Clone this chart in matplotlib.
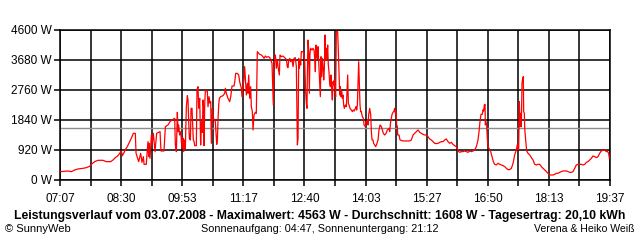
import numpy as np
import matplotlib
matplotlib.use("Agg")
from matplotlib import pyplot as plt

# time of day in minutes since midnight, power in W
t_min = [
    427.9, 437.9, 442.5, 447.0, 451.6, 458.4, 462.9, 467.5, 469.8, 474.3,
    478.8, 485.7, 490.2, 496.1, 499.3, 502.5, 506.1, 508.4, 510.7, 512.0,
    513.8, 516.6, 518.8, 522.0, 525.2, 527.0, 529.7, 530.7, 532.5, 534.3,
    537.0, 538.8, 540.7, 541.6, 544.7, 545.7, 547.0, 547.9, 548.4, 549.7,
    551.6, 552.5, 554.3, 556.6, 558.8, 563.4, 564.7, 568.8, 569.7, 570.7,
    574.3, 577.0, 579.8, 583.4, 584.3, 585.7, 587.0, 587.9, 588.8, 590.2,
    591.6, 592.5, 593.8, 594.8, 595.7, 597.0, 597.9, 599.3, 600.7, 601.6,
    602.5, 603.4, 604.8, 605.7, 607.0, 607.9, 608.8, 609.8, 610.7, 612.9,
    613.8, 615.2, 616.1, 617.5, 618.8, 619.8, 621.1, 622.0, 622.9, 623.4,
    624.3, 625.2, 627.9, 628.8, 630.2, 631.6, 632.5, 633.4, 634.8, 635.7,
    637.0, 638.8, 640.7, 641.6, 642.5, 643.4, 644.3, 646.1, 649.3, 651.6,
    652.5, 653.8, 656.1, 658.4, 659.8, 661.6, 664.3, 665.2, 666.6, 668.8,
    670.7, 672.0, 674.3, 675.2, 676.6, 677.9, 678.8, 679.7, 681.1, 682.5,
    683.4, 684.3, 685.7, 687.0, 687.9, 689.3, 690.2, 691.6, 693.4, 694.7,
    696.1, 697.9, 699.3, 701.6, 703.8, 705.2, 707.0, 708.8, 710.7, 712.9,
    714.3, 716.1, 717.9, 718.8, 719.7, 720.7, 722.0, 723.4, 724.3, 726.1,
    727.0, 728.8, 731.1, 733.4, 735.7, 737.0, 737.9, 738.8, 740.2, 741.6,
    743.4, 744.8, 746.1, 747.9, 749.3, 750.2, 750.7, 751.6, 752.5, 753.4,
    754.3, 755.2, 756.1, 758.4, 759.3, 760.7, 762.0, 762.9, 763.8, 764.3,
    765.2, 766.1, 767.0, 767.9, 768.8, 770.7, 772.0, 773.4, 774.3, 775.2,
    776.1, 777.0, 777.9, 778.8, 780.2, 781.1, 782.0, 782.9, 783.8, 784.7,
    785.7, 786.6, 787.5, 788.4, 789.3, 790.2, 791.1, 792.0, 792.9, 793.8,
    794.7, 795.7, 796.6, 797.5, 798.4, 799.3, 800.2, 801.1, 802.0, 802.9,
    803.4, 803.8, 804.7, 805.6, 806.6, 807.5, 808.4, 809.3, 810.2, 811.1,
    812.0, 812.9, 813.8, 814.7, 816.1, 817.5, 818.4, 819.3, 820.2, 821.1,
    822.5, 824.3, 825.7, 827.0, 828.4, 829.7, 830.7, 831.6, 832.5, 833.4,
    834.3, 835.2, 836.1, 837.0, 837.9, 839.3, 840.7, 841.6, 843.4, 844.7,
    846.1, 847.0, 847.9, 849.3, 850.7, 851.6, 852.5, 853.8, 854.7, 856.1,
    857.5, 858.8, 860.7, 862.0, 863.4, 865.2, 866.6, 867.9, 869.7, 871.6,
    873.4, 875.7, 876.6, 877.9, 879.8, 881.1, 882.5, 883.4, 884.3, 885.2,
    886.1, 887.0, 887.5, 889.3, 890.7, 894.8, 899.3, 903.8, 906.1, 908.4,
    910.7, 912.9, 915.2, 917.5, 919.8, 922.0, 924.3, 926.6, 928.8, 931.1,
    933.4, 935.7, 937.9, 940.2, 942.5, 944.8, 947.0, 949.3, 951.6, 953.8,
    956.1, 958.4, 960.7, 962.9, 965.2, 967.5, 969.8, 972.0, 974.3, 976.6,
    978.8, 981.1, 983.4, 985.7, 987.9, 990.2, 992.5, 994.8, 997.0, 998.4,
    999.7, 1001.1, 1002.9, 1003.8, 1004.7, 1005.6, 1006.6, 1007.0, 1007.9, 1008.8,
    1009.7, 1010.7, 1012.0, 1012.9, 1014.3, 1016.1, 1017.9, 1019.7, 1022.0, 1024.3,
    1026.6, 1028.8, 1031.1, 1033.4, 1035.7, 1037.9, 1040.2, 1042.5, 1044.8, 1047.0,
    1049.3, 1050.7, 1051.6, 1052.5, 1053.4, 1054.3, 1055.2, 1056.1, 1057.0, 1057.9,
    1058.8, 1059.3, 1060.2, 1060.7, 1062.0, 1063.4, 1065.2, 1067.5, 1069.8, 1072.0,
    1074.3, 1076.6, 1078.8, 1081.1, 1083.4, 1085.7, 1087.9, 1090.2, 1092.5, 1094.8,
    1097.0, 1099.3, 1101.6, 1103.8, 1106.1, 1108.4, 1110.7, 1112.9, 1115.2, 1117.5,
    1119.8, 1122.0, 1124.3, 1126.6, 1128.8, 1131.1, 1133.4, 1135.7, 1137.9, 1140.2,
    1142.5, 1144.8, 1147.0, 1149.3, 1151.6, 1153.8, 1156.1, 1158.4, 1160.7, 1162.9,
    1165.2, 1167.5, 1169.7, 1172.0, 1173.4, 1174.3, 1175.2, 1176.1,
]
watts = [
    256, 277, 256, 307, 338, 358, 379, 420, 481, 563,
    604, 604, 563, 563, 614, 686, 747, 819, 890, 747,
    819, 951, 1023, 1176, 1329, 1431, 1431, 819, 686, 563,
    819, 542, 716, 481, 481, 819, 1176, 716, 1125, 665,
    1380, 1074, 1431, 870, 1431, 1483, 890, 890, 1227, 1636,
    1687, 1789, 1840, 1892, 1074, 870, 2076, 1483, 1687, 1380,
    1483, 1176, 972, 1278, 870, 1227, 951, 2249, 2586, 2454,
    1789, 1278, 1227, 2198, 2198, 1687, 1227, 1176, 1053, 1053,
    2760, 2862, 2198, 2505, 1074, 1789, 1462, 2454, 2198, 1053,
    2300, 2730, 2730, 2249, 2556, 2351, 2402, 1125, 2198, 1840,
    1871, 1789, 1094, 1227, 1840, 2300, 2505, 2556, 2586, 2658,
    2811, 2658, 2505, 2402, 2556, 2883, 2883, 2995, 3271, 3271,
    3220, 3016, 2811, 2556, 2862, 3118, 3476, 3118, 2607, 2965,
    2658, 3220, 2505, 2862, 2249, 2096, 1534, 1994, 2076, 2045,
    3936, 3884, 3854, 3833, 3782, 3731, 3803, 3762, 3782, 3762,
    3680, 3578, 2300, 3578, 3731, 3833, 3425, 3680, 3476, 3220,
    3833, 3782, 3803, 3752, 3700, 3476, 3445, 3650, 3731, 3629,
    3680, 3476, 3731, 3752, 3476, 1892, 1074, 1278, 3731, 3425,
    3680, 3527, 3936, 3936, 3884, 3629, 2709, 2351, 2198, 3220,
    4293, 3987, 2658, 3884, 4038, 3987, 4038, 3987, 3731, 3322,
    4140, 3782, 3731, 4089, 3425, 3067, 2556, 3782, 3169, 3731,
    3476, 3067, 3425, 4447, 3680, 4038, 3731, 4140, 3527, 3322,
    2965, 2862, 3220, 2760, 2454, 3016, 2914, 3067, 2760, 2556,
    3731, 4549, 4563, 4549, 3936, 3220, 2607, 2862, 2556, 2709,
    2505, 2607, 2300, 2198, 2300, 2249, 2709, 3220, 2351, 2300,
    2198, 2147, 2096, 2147, 2116, 2198, 2249, 2147, 2300, 2965,
    3629, 2914, 2300, 2096, 2096, 1943, 1892, 1687, 1636, 1789,
    1840, 1687, 1994, 2198, 1994, 1483, 1227, 1227, 1125, 1074,
    1023, 1094, 1227, 1534, 1687, 1636, 1534, 1431, 1380, 1431,
    1534, 1585, 1483, 1789, 2014, 2076, 2116, 2198, 2045, 2096,
    1687, 1636, 1380, 1380, 1227, 1197, 1197, 1197, 1227, 1380,
    1431, 1483, 1534, 1462, 1431, 1401, 1380, 1380, 1329, 1258,
    1227, 1176, 1125, 1115, 1125, 1155, 1176, 1176, 1227, 1258,
    1176, 1125, 1155, 1094, 1053, 1023, 890, 849, 870, 870,
    890, 870, 849, 890, 870, 890, 921, 1023, 1227, 1483,
    1789, 2014, 2014, 2147, 2116, 2300, 2320, 1687, 1789, 1687,
    1278, 1023, 972, 921, 870, 716, 563, 481, 461, 512,
    481, 461, 440, 410, 358, 318, 318, 358, 512, 768,
    921, 1094, 921, 972, 2402, 1636, 2045, 1636, 2965, 3118,
    3169, 2096, 2045, 1585, 1227, 890, 819, 768, 686, 614,
    481, 461, 481, 481, 410, 358, 307, 256, 205, 154,
    154, 154, 175, 205, 205, 236, 256, 277, 277, 277,
    256, 236, 236, 256, 358, 461, 481, 481, 481, 461,
    481, 542, 563, 614, 665, 737, 716, 686, 716, 819,
    890, 921, 921, 870, 890, 849, 819, 665,
]

day_start, day_end = 427, 1177   # 07:07 .. 19:37
avg_w = 1608
y_ticks = [0, 920, 1840, 2760, 3680, 4600]
x_labels = ['07:07', '08:30', '09:53', '11:17', '12:40',
            '14:03', '15:27', '16:50', '18:13', '19:37']

title = ('Leistungsverlauf vom 03.07.2008 - Maximalwert: 4563 W - '
         'Durchschnitt: 1608 W - Tagesertrag: 20,10 kWh')
footer_left = '\u00a9 SunnyWeb'
footer_mid = 'Sonnenaufgang: 04:47, Sonnenuntergang: 21:12'
footer_right = 'Verena & Heiko Wei\u00df'

plt.rcParams['font.family'] = ['Liberation Sans', 'DejaVu Sans']

fig = plt.figure(figsize=(6.4, 2.4), dpi=100)
ax = fig.add_axes([60/640, 60/240, 550/640, 150/240])

# grid every half label step, labels on every other line
x_ticks = np.linspace(day_start, day_end, 2*len(x_labels) - 1)
ax.set_xticks(x_ticks)
ax.set_xticklabels([x_labels[i//2] if i % 2 == 0 else '' for i in range(len(x_ticks))])
ax.set_yticks(y_ticks)
ax.set_yticklabels(['%d W' % v for v in y_ticks])
ax.set_xlim(day_start, day_end)
ax.set_ylim(0, 4600)

ax.grid(True, color='black', linewidth=1.1)
ax.set_axisbelow(True)
ax.axhline(avg_w, color='#8c8c8c', linewidth=1.0, zorder=2)
ax.plot(t_min, watts, color='#ff0000', linewidth=0.9, zorder=3)

for s in ax.spines.values():
    s.set_linewidth(1.1)
ax.tick_params(axis='x', length=4, width=1.1, pad=5, labelsize=8.5)
ax.tick_params(axis='y', length=4, width=1.1, pad=2, labelsize=8.5)

fig.text(0.5, 0.098, title, ha='center', va='center', fontsize=8.8, fontweight='bold')
fig.text(5/640, 0.045, footer_left, ha='left', va='center', fontsize=8)
fig.text(320/640, 0.045, footer_mid, ha='center', va='center', fontsize=7.8)
fig.text(635/640, 0.045, footer_right, ha='right', va='center', fontsize=7.6)

fig.savefig('out.png', dpi=100)
